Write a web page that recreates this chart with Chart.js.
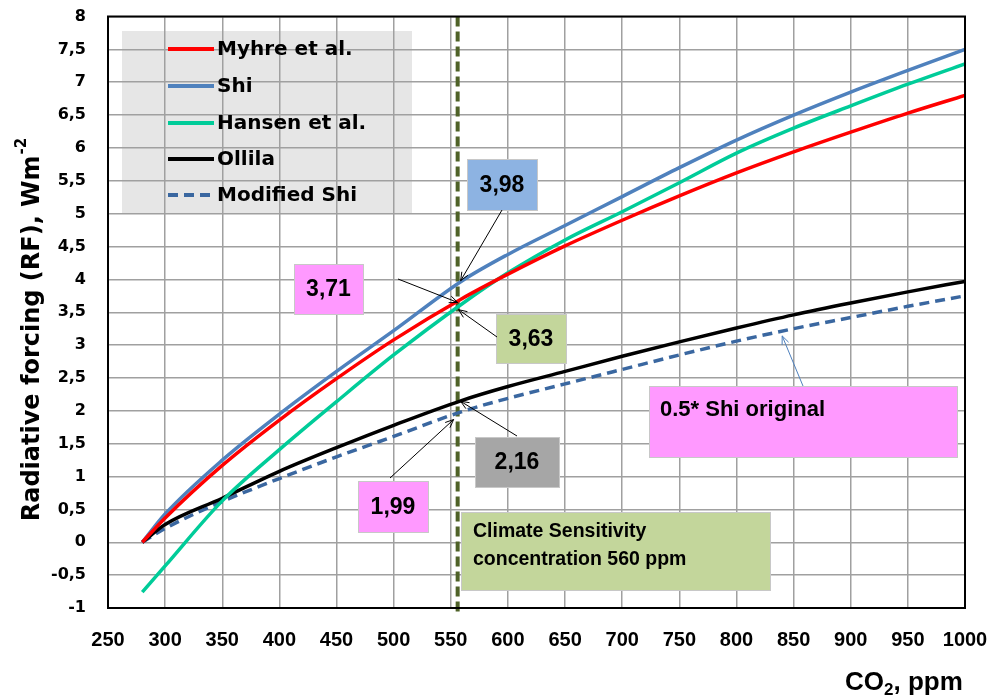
<!DOCTYPE html>
<html>
<head>
<meta charset="utf-8">
<script src="https://cdn.jsdelivr.net/npm/chart.js@4.4.0/dist/chart.umd.min.js"></script>
<style>
  html, body { margin: 0; padding: 0; background: #fff; }
  canvas { display: block; }
</style>
</head>
<body>
<canvas id="grafico" width="990" height="696"></canvas>
<script>
// valores (CO2 en ppm, forzamiento en W/m2)
var co2     = [280, 300, 350, 400, 450, 500, 560, 600, 650, 700, 750, 800, 850, 900, 950, 1000];
var myhre   = [0, 0.37, 1.17, 1.86, 2.49, 3.08, 3.71, 4.08, 4.51, 4.90, 5.27, 5.62, 5.94, 6.24, 6.53, 6.80];
var shi     = [0, 0.43, 1.25, 1.95, 2.60, 3.22, 3.98, 4.38, 4.82, 5.26, 5.70, 6.12, 6.50, 6.85, 7.18, 7.50];
var hansen  = [-0.76, -0.36, 0.63, 1.41, 2.14, 2.85, 3.63, 4.10, 4.60, 5.03, 5.47, 5.92, 6.30, 6.64, 6.97, 7.28];
var ollila  = [0, 0.27, 0.67, 1.08, 1.44, 1.78, 2.16, 2.37, 2.60, 2.83, 3.05, 3.26, 3.46, 3.64, 3.81, 3.97];
var modShi  = [0, 0.21, 0.62, 0.97, 1.30, 1.61, 1.99, 2.19, 2.41, 2.63, 2.85, 3.06, 3.25, 3.42, 3.59, 3.75];

var xTicks = { min: 250, max: 1000, step: 50 };
var yTicks = { min: -1, max: 8, step: 0.5 };
var sensibilidad = 556; // linea vertical "560 ppm"

// cajas de texto: valor, color y posicion de la caja
var notas = [
  { text: '3,98', fill: '#8db3e2', box: [467, 159, 70, 51], from: [502, 210], to: [sensibilidad, 3.98], off: [3, 0] },
  { text: '3,71', fill: '#ff99ff', box: [294, 264, 69, 50], from: [398, 279], to: [sensibilidad, 3.71], off: [0, 4] },
  { text: '3,63', fill: '#c3d69b', box: [496, 314, 70, 49], from: [497, 337], to: [sensibilidad, 3.63], off: [1, 6] },
  { text: '2,16', fill: '#a6a6a6', box: [475, 437, 84, 50], from: [517, 436], to: [sensibilidad, 2.16], off: [3, 1] },
  { text: '1,99', fill: '#ff99ff', box: [358, 481, 70, 51], from: [390, 478], to: [sensibilidad, 1.99], off: [-4, 8] }
];

function pares(ys) {
  var out = [];
  for (var i = 0; i < co2.length; i++) out.push({ x: co2[i], y: ys[i] });
  return out;
}

function flecha(ctx, x1, y1, x2, y2, color) {
  var ang = Math.atan2(y2 - y1, x2 - x1);
  ctx.save();
  ctx.strokeStyle = color;
  ctx.lineWidth = 1;
  ctx.beginPath();
  ctx.moveTo(x1, y1);
  ctx.lineTo(x2, y2);
  ctx.moveTo(x2 - 9 * Math.cos(ang - 0.4), y2 - 9 * Math.sin(ang - 0.4));
  ctx.lineTo(x2, y2);
  ctx.lineTo(x2 - 9 * Math.cos(ang + 0.4), y2 - 9 * Math.sin(ang + 0.4));
  ctx.stroke();
  ctx.restore();
}

function caja(ctx, b, fill) {
  ctx.fillStyle = fill;
  ctx.fillRect(b[0], b[1], b[2], b[3]);
  ctx.strokeStyle = '#c8c8c8';
  ctx.lineWidth = 1;
  ctx.strokeRect(b[0] + 0.5, b[1] + 0.5, b[2], b[3]);
}

var extras = {
  id: 'extras',
  beforeDraw: function(chart) {
    var ctx = chart.ctx;
    ctx.save();
    ctx.fillStyle = '#fff';
    ctx.fillRect(0, 0, chart.width, chart.height);
    // fondo de la leyenda (las lineas de la grilla pasan por encima)
    ctx.fillStyle = '#e6e6e6';
    ctx.fillRect(122, 31, 290, 182);
    ctx.restore();
  },
  beforeDatasetsDraw: function(chart) {
    var ctx = chart.ctx, a = chart.chartArea;
    var x = chart.scales.x.getPixelForValue(sensibilidad);
    ctx.save();
    ctx.strokeStyle = '#4f6228';
    ctx.lineWidth = 4;
    ctx.setLineDash([10, 5]);
    ctx.beginPath();
    ctx.moveTo(x, a.top);
    ctx.lineTo(x, a.bottom + 6);
    ctx.stroke();
    ctx.restore();
  },
  afterDatasetsDraw: function(chart) {
    var ctx = chart.ctx, a = chart.chartArea;
    var sx = chart.scales.x, sy = chart.scales.y;
    ctx.save();

    // marco
    ctx.strokeStyle = '#000';
    ctx.lineWidth = 2;
    ctx.strokeRect(a.left, a.top, a.right - a.left, a.bottom - a.top);

    // cajas con valores
    ctx.textAlign = 'center';
    ctx.textBaseline = 'middle';
    notas.forEach(function(n) {
      caja(ctx, n.box, n.fill);
      ctx.fillStyle = '#000';
      ctx.font = 'bold 23px "Liberation Sans Narrow", "Liberation Sans"';
      ctx.fillText(n.text, n.box[0] + n.box[2] / 2, n.box[1] + n.box[3] / 2 + 1);
      flecha(ctx, n.from[0], n.from[1],
        sx.getPixelForValue(n.to[0]) + n.off[0], sy.getPixelForValue(n.to[1]) + n.off[1], '#000');
    });

    // 0.5 * Shi
    caja(ctx, [649, 386, 308, 71], '#ff99ff');
    ctx.textAlign = 'left';
    ctx.fillStyle = '#000';
    ctx.font = 'bold 22px "Liberation Sans"';
    ctx.fillText('0.5* Shi original', 660, 410);
    flecha(ctx, 803, 386, sx.getPixelForValue(840), sy.getPixelForValue(3.14), '#4f81bd');

    // sensibilidad climatica
    caja(ctx, [461, 512, 309, 78], '#c3d69b');
    ctx.fillStyle = '#000';
    ctx.font = 'bold 19.5px "Liberation Sans"';
    ctx.fillText('Climate Sensitivity', 473, 532);
    ctx.fillText('concentration 560 ppm', 473, 560);

    // leyenda
    var filas = [49, 86, 123, 159, 195];
    chart.data.datasets.forEach(function(ds, i) {
      ctx.strokeStyle = ds.borderColor;
      ctx.lineWidth = 4;
      ctx.setLineDash(ds.borderDash || []);
      ctx.beginPath();
      ctx.moveTo(168, filas[i]);
      ctx.lineTo(214, filas[i]);
      ctx.stroke();
      ctx.setLineDash([]);
      ctx.fillStyle = '#000';
      ctx.font = 'bold 20px "DejaVu Sans"';
      ctx.fillText(ds.label, 217, filas[i] + 1);
    });

    // titulo eje y
    ctx.save();
    ctx.translate(33, 330);
    ctx.rotate(-Math.PI / 2);
    ctx.font = 'bold 24px "DejaVu Sans"';
    var t1 = 'Radiative forcing (RF), Wm';
    var w1 = ctx.measureText(t1).width;
    ctx.font = 'bold 15px "DejaVu Sans"';
    var w2 = ctx.measureText('-2').width;
    var x0 = -(w1 + w2) / 2;
    ctx.font = 'bold 24px "DejaVu Sans"';
    ctx.fillText(t1, x0, 0);
    ctx.font = 'bold 15px "DejaVu Sans"';
    ctx.fillText('-2', x0 + w1 + 1, -11);
    ctx.restore();

    // titulo eje x
    ctx.textAlign = 'left';
    ctx.textBaseline = 'alphabetic';
    ctx.font = 'bold 26px "Liberation Sans"';
    var xx = 845;
    ctx.fillText('CO', xx, 690);
    xx += ctx.measureText('CO').width;
    ctx.font = 'bold 17px "Liberation Sans"';
    ctx.fillText('2', xx, 695);
    xx += ctx.measureText('2').width;
    ctx.font = 'bold 26px "Liberation Sans"';
    ctx.fillText(', ppm', xx, 690);

    ctx.restore();
  }
};

function serie(label, ys, color, dash) {
  return {
    label: label,
    data: pares(ys),
    borderColor: color,
    borderWidth: 3.5,
    borderDash: dash,
    pointRadius: 0,
    fill: false,
    cubicInterpolationMode: 'monotone'
  };
}

new Chart(document.getElementById('grafico').getContext('2d'), {
  type: 'line',
  data: {
    datasets: [
      serie('Myhre et al.', myhre, '#ff0000'),
      serie('Shi', shi, '#4f81bd'),
      serie('Hansen et al.', hansen, '#00cc99'),
      serie('Ollila', ollila, '#000000'),
      serie('Modified Shi', modShi, '#3a67a0', [10, 6])
    ]
  },
  options: {
    responsive: false,
    animation: false,
    devicePixelRatio: 1,
    layout: { autoPadding: false, padding: { top: 16.5, right: 25, left: 0, bottom: 0 } },
    plugins: { legend: { display: false }, tooltip: { enabled: false } },
    scales: {
      x: {
        type: 'linear',
        min: xTicks.min, max: xTicks.max,
        ticks: { stepSize: xTicks.step, color: '#000', padding: 0,
          font: { family: 'Liberation Sans', size: 20, weight: 'bold' },
          callback: function(v) { return String(v); } },
        // marcas invisibles: solo separan las etiquetas del eje
        grid: { color: '#a0a0a0', lineWidth: 1.5, drawTicks: true, tickLength: 20, tickColor: 'rgba(0,0,0,0)' },
        border: { display: false },
        afterFit: function(s) { s.height = 88; }
      },
      y: {
        min: yTicks.min, max: yTicks.max,
        ticks: { stepSize: yTicks.step, color: '#000', padding: 0,
          font: { family: 'DejaVu Sans', size: 16, weight: 'bold' },
          callback: function(v) { return String(v).replace('.', ','); } },
        grid: { color: '#a0a0a0', lineWidth: 1.5, drawTicks: true, tickLength: 22, tickColor: 'rgba(0,0,0,0)' },
        border: { display: false },
        afterFit: function(s) { s.width = 108; }
      }
    }
  },
  plugins: [extras]
});
</script>
</body>
</html>
